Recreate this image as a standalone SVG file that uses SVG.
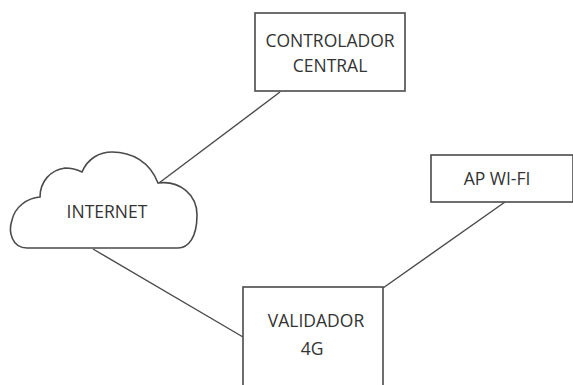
<svg xmlns="http://www.w3.org/2000/svg" width="573" height="385" viewBox="0 0 573 385">
<style>
.box{fill:#fff;stroke:#4a4a4a;stroke-width:1.6}
.ln{stroke:#4a4a4a;stroke-width:1.4;fill:none}
.t{font-family:"Open Sans","DejaVu Sans",sans-serif;font-size:17.5px;fill:#333;text-anchor:middle}
</style>
<rect width="573" height="385" fill="#fff"/>
<g id="connectors">
<line class="ln" x1="280" y1="92" x2="159" y2="183"/>
<line class="ln" x1="93" y1="249" x2="243" y2="337"/>
<line class="ln" x1="505" y1="202" x2="383" y2="288"/>
</g>
<g id="controlador">
<rect class="box" x="255" y="13" width="150" height="78"/>
<text class="t" x="330" y="47">CONTROLADOR</text>
<text class="t" x="330" y="72">CENTRAL</text>
</g>
<g id="internet">
<path class="box" d="M 27,248 C 12,248 8,232 12,220 C 15,207 27,198 40,197 C 40,182 50,170 65,168 C 72,168 78,170 82,172 C 88,158 100,152 112,152 C 132,152 150,162 158,183 C 180,180 197,195 197,215 C 197,238 188,248 178,248 Z"/>
<text class="t" x="107" y="218">INTERNET</text>
</g>
<g id="ap">
<rect class="box" x="431" y="155" width="142" height="47"/>
<text class="t" x="497" y="185">AP WI-FI</text>
</g>
<g id="validador">
<rect class="box" x="243" y="287" width="140" height="110"/>
<text class="t" x="316" y="327">VALIDADOR</text>
<text class="t" x="312" y="355">4G</text>
</g>
</svg>
